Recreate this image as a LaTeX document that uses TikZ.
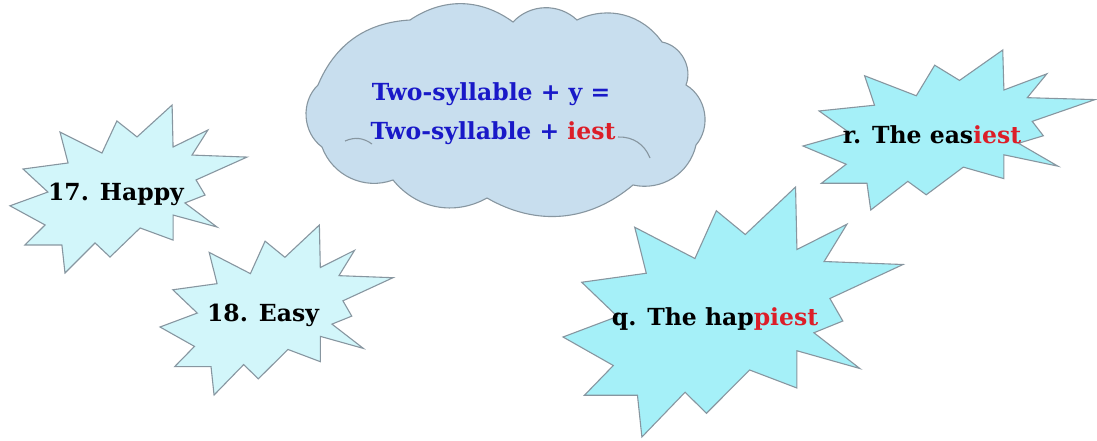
\documentclass[tikz,border=0pt]{standalone}
\usepackage{fontspec}
\setmainfont{DejaVu Serif}
\definecolor{burstA}{RGB}{210,246,250}
\definecolor{burstB}{RGB}{165,240,248}
\definecolor{cloudfill}{RGB}{200,222,238}
\definecolor{edgegray}{RGB}{135,150,160}
\definecolor{txtblue}{RGB}{25,25,200}
\definecolor{txtred}{RGB}{220,30,40}
\tikzset{
  burst/.style={draw=edgegray, line width=1.1pt, line join=miter},
  cloudline/.style={draw=edgegray, line width=1.1pt},
  lbl/.style={font=\bfseries\fontsize{23.5}{28}\selectfont, anchor=base, inner sep=0pt},
}
\newcommand\drawburst[5]{%
 \begin{scope}[shift={(#1,#2)},xscale=#3,yscale=#4]
 \draw[burst,fill=#5] (0.684,0) -- (0.688,0.25) -- (0.835,0.149) -- (0.768,0.298) -- (1,0.31) -- (0.785,0.446) -- (0.823,0.536) -- (0.738,0.583) -- (0.873,0.726) -- (0.688,0.655) -- (0.688,0.804) -- (0.549,0.732) -- (0.422,0.905) -- (0.359,0.821) -- (0.232,1) -- (0.219,0.833) -- (0.063,0.833) -- (0.148,0.714) -- (0,0.6) -- (0.16,0.518) -- (0.055,0.381) -- (0.245,0.345) -- (0.211,0.161) -- (0.388,0.286) -- (0.451,0.095) -- (0.536,0.19) -- cycle;
 \end{scope}}
\begin{document}
\begin{tikzpicture}[x=1pt,y=-1pt]
\useasboundingbox (0,0) rectangle (1097,440);
% cloud
\draw[cloudline, fill=cloudfill]
  (322,147) to[bend left=50] (318,85)
  to[bend left=32] (410,20)
  to[bend left=35] (513,22)
  to[bend left=45] (577,20)
  to[bend left=40] (662,42)
  to[bend left=50] (686,85)
  to[bend left=50] (696,145)
  to[bend left=45] (633,185)
  to[bend left=35] (487,198)
  to[bend left=40] (393,180)
  to[bend left=45] cycle;
\draw[cloudline] (345,141) to[bend left=30] (372,144);
\draw[cloudline] (618,137) to[bend left=35] (650,158);
% starbursts
\drawburst{10}{105}{237}{168}{burstA}
\drawburst{160}{225}{233}{170}{burstA}
\drawburst{803}{50}{292}{160}{burstB}
\drawburst{563}{187}{340}{250}{burstB}
% labels
\node[lbl] (t17) at (116,200) {17. Happy};
\node[lbl] (t18) at (263,321) {18. Easy};
\node[lbl] (tr) at (932,143) {r. The eas\textcolor{txtred}{iest}};
\node[lbl] (tq) at (715,325) {q. The hap\textcolor{txtred}{piest}};
\node[lbl, text=txtblue] (c1) at (491,100) {Two-syllable + y =};
\node[lbl, text=txtblue] (c2) at (493,139) {Two-syllable + \textcolor{txtred}{iest}};
\end{tikzpicture}
\end{document}
